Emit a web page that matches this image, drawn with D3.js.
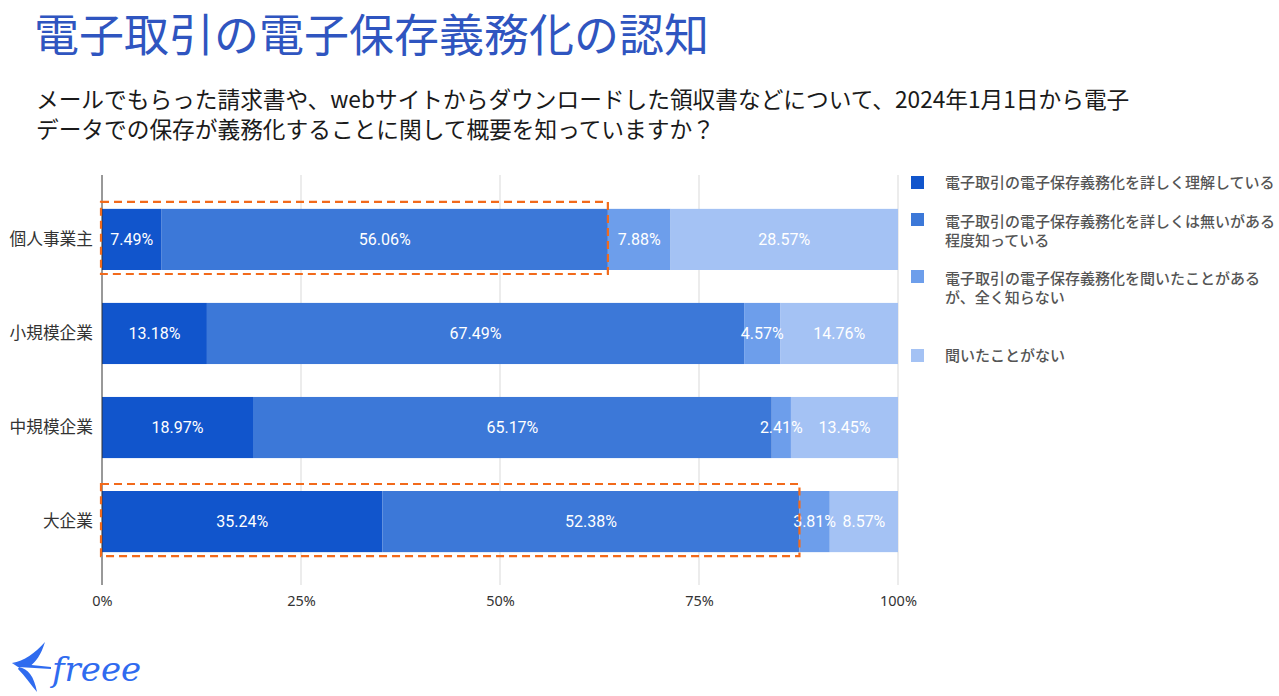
<!DOCTYPE html>
<html lang="ja">
<head>
<meta charset="utf-8">
<script src="https://cdn.jsdelivr.net/npm/d3@7/dist/d3.min.js"></script>
<style>
  html, body { margin: 0; padding: 0; background: #fff; }
  svg { display: block; font-family: "Noto Sans CJK JP", "Noto Sans", sans-serif; }
</style>
</head>
<body>
<div id="chart"></div>
<script>
// Chart data
const categories = ['個人事業主', '小規模企業', '中規模企業', '大企業'];
const seriesNames = [
  '電子取引の電子保存義務化を詳しく理解している',
  '電子取引の電子保存義務化を詳しくは無いがある|程度知っている',
  '電子取引の電子保存義務化を聞いたことがある|が、全く知らない',
  '聞いたことがない'
];
const understand = [7.49, 13.18, 18.97, 35.24];
const somewhat = [56.06, 67.49, 65.17, 52.38];
const heardOnly = [7.88, 4.57, 2.41, 3.81];
const never = [28.57, 14.76, 13.45, 8.57];
const xTicks = [0, 25, 50, 75, 100];
const highlighted = ['個人事業主', '大企業']; // boxed rows (first two segments)

const colors = ['#1155cc', '#3c78d8', '#6d9eeb', '#a4c2f4'];
const seriesValues = [understand, somewhat, heardOnly, never];

const W = 1279, H = 696;
const svg = d3.select('#chart').append('svg')
  .attr('width', W).attr('height', H);

// Title + question
svg.append('text')
  .attr('x', 34).attr('y', 52)
  .attr('font-size', 45).attr('fill', '#2f55c0')
  .text('電子取引の電子保存義務化の認知');

const question = [
  'メールでもらった請求書や、webサイトからダウンロードした領収書などについて、2024年1月1日から電子',
  'データでの保存が義務化することに関して概要を知っていますか？'
];
svg.append('g').selectAll('text').data(question).enter().append('text')
  .attr('x', 36).attr('y', (d, i) => 108 + i * 30)
  .attr('font-size', 22.7).attr('fill', '#1a1a1a')
  .text(d => d);

// Scales
const x = d3.scaleLinear().domain([0, 100]).range([102, 898]);
const y = d3.scaleBand().domain(categories).range([175, 586])
  .paddingInner(0.35).paddingOuter(0.36);

// Grid
svg.append('g').selectAll('line').data(xTicks.slice(1)).enter().append('line')
  .attr('x1', d => x(d)).attr('x2', d => x(d))
  .attr('y1', 175).attr('y2', 585)
  .attr('stroke', '#d9d9d9').attr('stroke-width', 1);

// Stack
const rows = categories.map((c, i) => {
  let acc = 0;
  return seriesValues.map((s, k) => {
    const seg = { cat: c, k, v: s[i], x0: acc, x1: acc + s[i] };
    acc += s[i];
    return seg;
  });
});
const segs = rows.flat();

svg.append('g').selectAll('rect').data(segs).enter().append('rect')
  .attr('x', d => x(d.x0))
  .attr('width', d => x(d.x1) - x(d.x0))
  .attr('y', d => y(d.cat))
  .attr('height', y.bandwidth())
  .attr('fill', d => colors[d.k]);

svg.append('g').selectAll('text').data(segs).enter().append('text')
  .attr('x', d => x((d.x0 + d.x1) / 2))
  .attr('y', d => y(d.cat) + y.bandwidth() / 2)
  .attr('dy', '0.35em')
  .attr('text-anchor', 'middle')
  .attr('font-family', 'Roboto, sans-serif')
  .attr('font-size', 16)
  .attr('fill', '#fff')
  .text(d => d.v.toFixed(2) + '%');

// Axis line at 0
svg.append('line')
  .attr('x1', x(0)).attr('x2', x(0))
  .attr('y1', 175).attr('y2', 585)
  .attr('stroke', '#333').attr('stroke-width', 1);

// X tick labels
const xAxis = svg.append('g')
  .attr('transform', 'translate(0,585)')
  .call(d3.axisBottom(x).tickValues(xTicks).tickFormat(d => d + '%').tickSize(0).tickPadding(11));
xAxis.select('.domain').remove();
xAxis.selectAll('text')
  .attr('font-family', '"Noto Sans", sans-serif')
  .attr('font-size', 14.5).attr('fill', '#333');

// Category labels
const yAxis = svg.append('g')
  .attr('transform', `translate(${x(0)},0)`)
  .call(d3.axisLeft(y).tickSize(0).tickPadding(9));
yAxis.select('.domain').remove();
yAxis.selectAll('text')
  .attr('font-family', '"Noto Sans CJK JP", sans-serif')
  .attr('font-size', 16.7).attr('fill', '#333');

// Highlight boxes
svg.append('g').selectAll('rect').data(highlighted).enter().append('rect')
  .attr('x', x(0) - 1)
  .attr('y', d => y(d) - 7)
  .attr('width', d => {
    const i = categories.indexOf(d);
    return x(understand[i] + somewhat[i]) - x(0) + 1;
  })
  .attr('height', y.bandwidth() + 11)
  .attr('fill', 'none')
  .attr('stroke', '#f26a1b')
  .attr('stroke-width', 2.2)
  .attr('stroke-dasharray', '8,5');

// Legend
const legendY = [183, 231, 288, 356];
const legend = svg.append('g').selectAll('g').data(seriesNames).enter().append('g')
  .attr('transform', (d, i) => `translate(911,${legendY[i]})`);
legend.append('rect')
  .attr('x', 0).attr('y', d => (d.includes('|') ? -9 - 9 : -7))
  .attr('width', 13).attr('height', 13)
  .attr('fill', (d, i) => colors[i]);
legend.each(function (d) {
  const lines = d.split('|');
  const off = lines.length > 1 ? -9 : 0;
  d3.select(this).selectAll('text').data(lines).enter().append('text')
    .attr('x', 34)
    .attr('y', (t, j) => off + j * 19)
    .attr('dy', '0.35em')
    .attr('font-size', 15)
    .attr('font-weight', 500)
    .attr('fill', '#555')
    .text(t => t);
});

// freee logo
const logo = svg.append('g').attr('fill', '#2f6bef').attr('stroke', 'none');
logo.append('path').attr('d', 'M12,663 C24,661 35,653 45,642 C41,655 36,662 29,667 Z');
logo.append('path').attr('d', 'M19,667 C28,669 34,676 37,692 C31,685 25,676 18,669 Z');
logo.append('path').attr('d', 'M12,663 L51,667 L51,669 L18,667 Z');
logo.append('text')
  .attr('x', 52).attr('y', 681)
  .attr('font-family', '"DejaVu Serif", serif')
  .attr('font-style', 'italic')
  .attr('font-size', 34)
  .attr('fill', '#2f6bef')
  .text('freee');
</script>
</body>
</html>
